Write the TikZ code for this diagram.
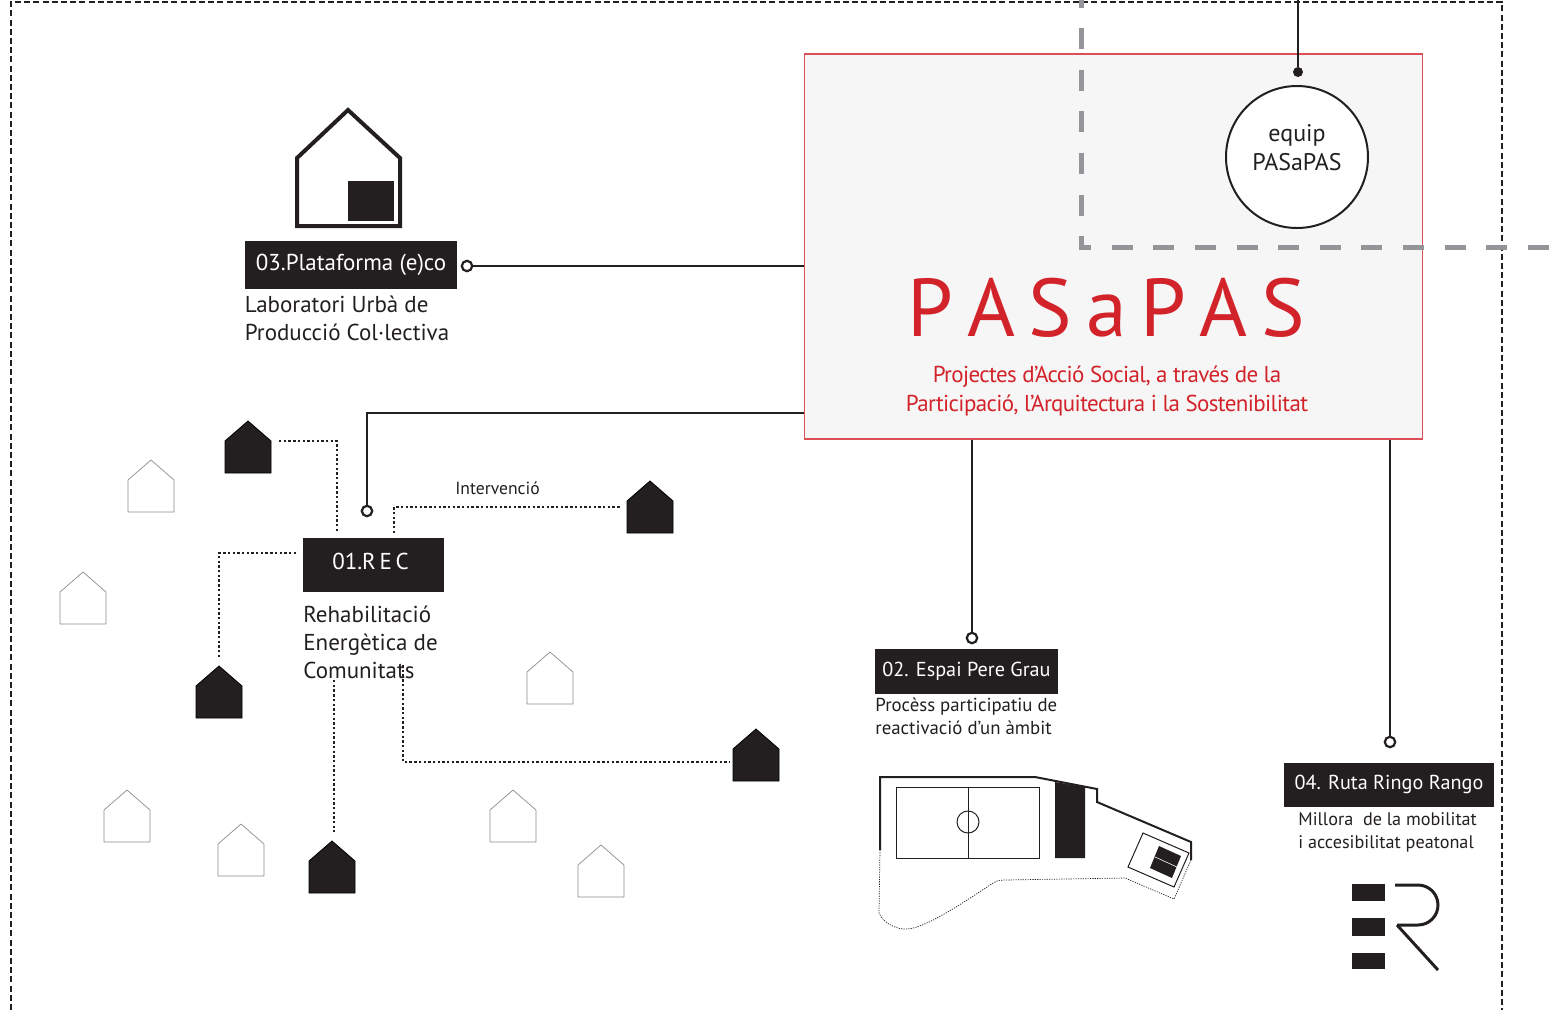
\documentclass[tikz,border=0pt]{standalone}
\usepackage{fontspec}
\setmainfont{PT Sans}
\usepackage{tikz}
\definecolor{ink}{HTML}{231F20}
\definecolor{pasred}{HTML}{D2232A}
\definecolor{pasgrey}{HTML}{939598}
\definecolor{pasback}{HTML}{F6F6F6}
\tikzstyle{main}=[rectangle, draw=pasred!80, line width=0.7pt, fill=pasback, minimum width=309pt, minimum height=192.5pt, inner sep=0pt]
\tikzstyle{tag}=[rectangle, fill=ink, text=white, inner sep=0pt, font=\fontsize{11.5}{14}\selectfont]
\tikzstyle{txt}=[anchor=west, align=left, inner sep=0pt, text=ink, font=\fontsize{11.5}{14}\selectfont]
\tikzstyle{small}=[anchor=west, align=left, inner sep=0pt, text=ink, font=\fontsize{9.4}{11.5}\selectfont]
\tikzstyle{ring}=[circle, draw=ink, line width=1.1pt, fill=white, inner sep=0pt, minimum size=5.2pt]
\tikzstyle{dot}=[circle, fill=ink, inner sep=0pt, minimum size=5pt]
\tikzstyle{link}=[draw=ink, line width=1pt]
\tikzstyle{dots}=[draw=ink, line width=1.2pt, dash pattern=on 1.2pt off 1.15pt]
\tikzstyle{frame}=[draw=ink, line width=0.6pt, dash pattern=on 3pt off 1.6pt]
\tikzstyle{team}=[draw=pasgrey, line width=2.5pt, dash pattern=on 10.5pt off 10.3pt]
\tikzstyle{full}=[fill=ink]
\tikzstyle{empty}=[draw=black!45, line width=0.35pt, line join=round]
\tikzstyle{site}=[draw=ink, line width=1pt, line join=miter]
\tikzstyle{thin}=[draw=ink, line width=0.5pt]
\newcommand{\hut}[3]{\draw[#1] (#2-23,#3+20) -- (#2,#3) -- (#2+23,#3+20) -- (#2+23,#3+52) -- (#2-23,#3+52) -- cycle;}
\begin{document}
\begin{tikzpicture}[x=0.5pt,y=-0.5pt]
	\useasboundingbox (0,0) rectangle (1560,1014);

	%The outer frame
	\draw[frame] (11,1010) -- (11,2) -- (1502,2) -- (1502,1010);

	%The main box
	\draw (1113.5,246.5) node[main] (pas) {};
	\draw[team] (1081,-13.5) -- (1081,247) -- (1549,247);
	\draw (1106.5,308) node[inner sep=0pt, text=pasred, font=\fontsize{41}{41}\selectfont] (title) {P\,A\,S\,a\,P\,A\,S};
	\draw (1107,391.5) node[align=center, inner sep=0pt, text=pasred, font=\fontsize{11.5}{14.5}\selectfont\addfontfeature{LetterSpace=-2.7}] (subtitle) {Projectes d’Acció Social, a través de la\\Participació, l’Arquitectura i la Sostenibilitat};

	%The team
	\draw (1297,157) node[circle, draw=ink, line width=1pt, fill=white, minimum size=71pt, inner sep=0pt, align=center, text=ink, font=\fontsize{12}{14}\selectfont] (equip) {\raisebox{9.5pt}{\shortstack{equip\\[1pt]PASaPAS}}};
	\draw (1298,72) node[dot] (eqdot) {};
	\coordinate (eqtop) at (1298,0);
	\draw[link] (eqtop) -- (eqdot);

	%The house of the platform
	\draw[draw=ink, line width=2pt, line join=miter] (297,158) -- (348,110) -- (400,158) -- (400,226) -- (297,226) -- cycle;
	\fill[ink] (348,181) rectangle (394,221);

	%03
	\draw (351,265) node[tag, minimum width=106pt, minimum height=24pt] (b3) {\raisebox{3pt}{03.Plataforma (e)co}};
	\draw (244.5,318) node[txt] (t3) {Laboratori Urbà de\\Producció Col·lectiva};
	\draw (467,266) node[ring] (r3) {};
	\draw[link] (r3) -- (r3 -| pas.west);

	%01
	\draw (373.5,565) node[tag, minimum width=70.5pt, minimum height=27pt] (b1) {\raisebox{3.5pt}{\spaceskip=0.16em\relax 01.R E C\kern3pt}};
	\draw (303,642) node[txt] (t1) {Rehabilitació\\Energètica de\\Comunitats};
	\draw (367,511) node[ring] (r1) {};
	\coordinate (c1) at (pas.west |- 0,413);
	\draw[link] (c1) -| (r1);

	%02
	\draw (966.5,671.5) node[tag, minimum width=91.5pt, minimum height=22.5pt, font=\fontsize{10.1}{12}\selectfont] (b2) {\raisebox{2pt}{02. Espai Pere Grau}};
	\draw (875,716.5) node[small] (t2) {Procèss participatiu de\\reactivació d’un àmbit};
	\draw (972,638) node[ring] (r2) {};
	\draw[link] (r2 |- pas.south) -- (r2);

	%04
	\draw (1389,785) node[tag, minimum width=105pt, minimum height=22pt, font=\fontsize{10.1}{12}\selectfont] (b4) {\raisebox{3pt}{04. Ruta Ringo Rango}};
	\draw (1298,832.5) node[small, font=\fontsize{9.1}{11.5}\selectfont] (t4) {Millora\ \ de la mobilitat\\i accesibilitat peatonal};
	\draw (1390,742) node[ring] (r4) {};
	\draw[link] (r4 |- pas.south) -- (r4);

	%The houses in the neighbourhood
	\hut{full}{248}{421}
	\hut{full}{650}{481}
	\hut{full}{219}{666}
	\hut{full}{756}{729}
	\hut{full}{332}{841}
	\hut{empty}{151}{460}
	\hut{empty}{83}{572}
	\hut{empty}{550}{652}
	\hut{empty}{127}{790}
	\hut{empty}{241}{824}
	\hut{empty}{513}{790}
	\hut{empty}{601}{845}

	%The interventions
	\draw (497.5,488) node[inner sep=0pt, text=ink, font=\fontsize{8.8}{10}\selectfont] (inter) {Intervenció};
	\coordinate (d1a) at (279,441);
	\coordinate (d1b) at (337,533);
	\coordinate (d2a) at (394,533);
	\coordinate (d2b) at (620,507);
	\coordinate (d3a) at (296,553);
	\coordinate (d3b) at (219,658);
	\coordinate (d4a) at (403,665);
	\coordinate (d4b) at (730,762);
	\coordinate (d5a) at (334,680);
	\coordinate (d5b) at (334,832);
	\draw[dots] (d1a) -| (d1b);
	\draw[dots] (d2a) |- (d2b);
	\draw[dots] (d3a) -| (d3b);
	\draw[dots] (d4a) |- (d4b);
	\draw[dots] (d5a) -- (d5b);

	%The site plan
	\draw[site] (880,850) -- (880,777) -- (1035,777) -- (1097,789) -- (1097,802) -- (1191,842) -- (1191,860);
	\draw[thin] (896,787) rectangle (1039,858);
	\draw[thin] (968,787) -- (968,858);
	\draw[thin] (968,822) circle (5.5pt);
	\fill[ink] (1055,782) -- (1085,787) -- (1085,858) -- (1055,858) -- cycle;
	\draw[thin] (1143,833) -- (1189,853) -- (1174,887) -- (1128,867) -- cycle;
	\fill[ink] (1159,846) -- (1181,856) -- (1172,878) -- (1150,868) -- cycle;
	\draw[white, line width=0.3pt] (1155,857) -- (1177,867);
	\draw[draw=ink, line width=0.35pt, dash pattern=on 0.6pt off 0.6pt] (880,850) -- (879,913) .. controls (884,925) and (900,930) .. (907,929) .. controls (925,928) and (960,905) .. (993,883) .. controls (998,880) and (1001,880) .. (1005,880) -- (1125,878) -- (1174,899) -- (1191,860);

	%The logo of the route
	\fill[ink] (1352,884) rectangle (1385,901);
	\fill[ink] (1352,918) rectangle (1385,936);
	\fill[ink] (1352,953) rectangle (1385,969);
	\draw[draw=ink, line width=1.5pt, rounded corners=10pt] (1395,885) -- (1438,885) -- (1438,925) -- (1397,925);
	\draw[draw=ink, line width=1.5pt] (1397,925) -- (1438,970);
\end{tikzpicture}
\end{document}
